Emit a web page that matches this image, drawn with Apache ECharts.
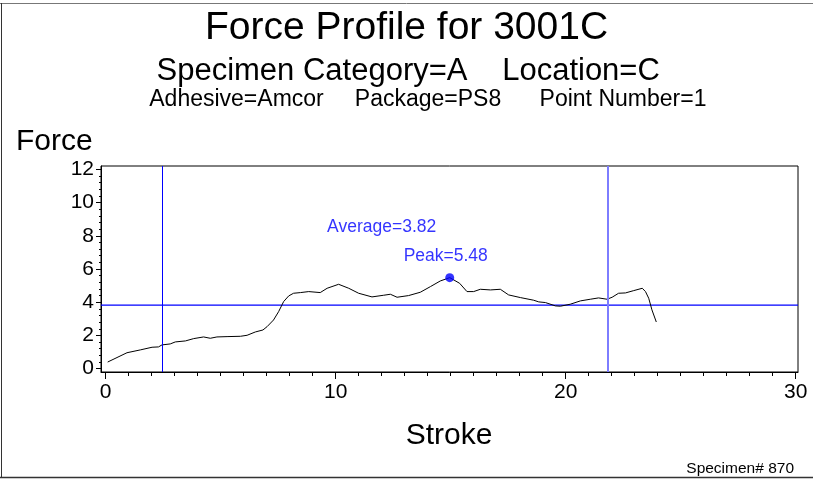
<!DOCTYPE html>
<html>
<head>
<meta charset="utf-8">
<title>Force Profile for 3001C</title>
<script src="https://cdn.jsdelivr.net/npm/echarts@6/dist/echarts.min.js"></script>
<style>
  html, body { margin: 0; padding: 0; background: #fff; }
  #main { width: 813px; height: 481px; }
</style>
</head>
<body>
<div id="main"></div>
<script>
// stroke / force
const stroke = [0.09, 0.93, 1.51, 2.02, 2.3, 2.45, 2.81, 3.03, 3.47, 3.83, 4.26, 4.55, 4.84, 5.28, 5.86,
  6.15, 6.51, 6.84, 7.02, 7.3, 7.52, 7.74, 7.96, 8.17, 8.47, 8.83, 9.33, 9.63, 10.13, 10.57,
  11.0, 11.58, 12.09, 12.38, 12.67, 13.17, 13.68, 14.12, 14.55, 14.96, 15.39, 15.71, 16.0, 16.29, 16.73,
  17.16, 17.52, 18.03, 18.61, 18.83, 19.12, 19.55, 19.77, 20.2, 20.64, 21.07, 21.43, 21.8, 22.02, 22.3,
  22.6, 22.96, 23.33, 23.47, 23.61, 23.75, 23.94]
const force = [0.40, 0.96, 1.13, 1.29, 1.31, 1.43, 1.49, 1.61, 1.67, 1.81, 1.91, 1.83, 1.91, 1.93, 1.95,
  2.01, 2.21, 2.33, 2.53, 2.93, 3.43, 4.04, 4.38, 4.54, 4.58, 4.64, 4.58, 4.84, 5.08, 4.84,
  4.54, 4.32, 4.42, 4.48, 4.30, 4.40, 4.60, 4.94, 5.28, 5.48, 5.14, 4.64, 4.64, 4.78, 4.74,
  4.78, 4.44, 4.28, 4.12, 4.02, 3.98, 3.78, 3.76, 3.88, 4.08, 4.18, 4.26, 4.18, 4.30, 4.54,
  4.56, 4.70, 4.84, 4.64, 4.24, 3.54, 2.81]

const average = 3.82
const peak = [14.96, 5.48]
const limits = [2.48, 21.81]   // vertical blue lines

const xTicks = [0, 10, 20, 30]
const yTicks = [0, 2, 4, 6, 8, 10, 12]

let xMinor = []
for (let i = 1; i < 30; i++) if (i % 10) xMinor.push(i)
let yMinor = []
for (let i = 0; i < 12; i += 2) for (let k = 1; k < 5; k++) yMinor.push(+(i + k * 0.4).toFixed(1))

const font = 'Liberation Sans, Arial, sans-serif'
const blue = '#0000ff'
const xRange = [-0.2, 30.1]
const yRange = [-0.2, 12.2]

let myChart = echarts.init(document.getElementById('main'))

function txt(text, x, y, size, align) {
    return {
        type: 'text', x: x, y: y,
        style: { text: text, font: size + 'px ' + font, fill: '#000', align: align || 'center', verticalAlign: 'middle' }
    }
}

let options = {
    animation: false,
    textStyle: { fontFamily: font },
    grid: { left: 101, right: 15, top: 166, bottom: 109, show: true, borderColor: '#000', borderWidth: 1 },
    graphic: [
        { type: 'line', shape: { x1: 0, y1: 3.5, x2: 813, y2: 3.5 }, style: { stroke: '#777', lineWidth: 1 } },
        { type: 'line', shape: { x1: 1.5, y1: 3, x2: 1.5, y2: 478 }, style: { stroke: '#333', lineWidth: 1 } },
        { type: 'line', shape: { x1: 0, y1: 477.5, x2: 813, y2: 477.5 }, style: { stroke: '#333', lineWidth: 1.5 } },
        txt('Force Profile for 3001C', 406.5, 28, 39),
        txt('Specimen Category=A', 312, 71, 31),
        txt('Location=C', 581, 71, 31),
        txt('Adhesive=Amcor', 236.5, 100, 23),
        txt('Package=PS8', 428, 100, 23),
        txt('Point Number=1', 623, 100, 23),
        txt('Force', 16, 142, 30, 'left'),
        txt('Stroke', 449, 436, 30),
        txt('Specimen# 870', 794, 469, 15.5, 'right')
    ],
    xAxis: [{
        type: 'value', min: xRange[0], max: xRange[1],
        splitLine: { show: false },
        axisLine: { show: true, onZero: false, lineStyle: { color: '#000' } },
        axisTick: { show: true, length: 7, customValues: xTicks, lineStyle: { color: '#000' } },
        axisLabel: { customValues: xTicks, fontSize: 21, color: '#000', margin: 10 }
    }, {
        type: 'value', min: xRange[0], max: xRange[1], position: 'bottom',
        splitLine: { show: false },
        axisLine: { show: false, onZero: false },
        axisTick: { show: true, length: 4, customValues: xMinor, lineStyle: { color: '#000' } },
        axisLabel: { show: false }
    }],
    yAxis: [{
        type: 'value', min: yRange[0], max: yRange[1],
        splitLine: { show: false },
        axisLine: { show: true, onZero: false, lineStyle: { color: '#000' } },
        axisTick: { show: true, length: 5, customValues: yTicks, lineStyle: { color: '#000' } },
        axisLabel: { customValues: yTicks, fontSize: 21, color: '#000', margin: 7 }
    }, {
        type: 'value', min: yRange[0], max: yRange[1], position: 'left',
        splitLine: { show: false },
        axisLine: { show: false, onZero: false },
        axisTick: { show: true, length: 2, customValues: yMinor, lineStyle: { color: '#000' } },
        axisLabel: { show: false }
    }],
    series: [{
        name: 'Force',
        type: 'line',
        data: stroke.map((s, i) => [s, force[i]]),
        showSymbol: false,
        z: 3,
        lineStyle: { color: '#000', width: 1 },
        markLine: {
            symbol: 'none', silent: true,
            label: { show: false },
            lineStyle: { color: blue, type: 'solid', width: 1 },
            data: [
                { xAxis: limits[0] },
                { xAxis: limits[1], lineStyle: { color: '#7d7dff', width: 2, type: 'solid' } }
            ]
        }
    }, {
        // average drawn as its own flat series across the frame
        name: 'Average line',
        type: 'line',
        data: [[xRange[0], average], [xRange[1], average]],
        showSymbol: false,
        silent: true,
        z: 2,
        lineStyle: { color: blue, width: 1.2 }
    }, {
        name: 'Peak',
        type: 'scatter',
        data: [peak],
        symbolSize: 9,
        z: 4,
        itemStyle: { color: blue },
        label: {
            show: true, position: 'top', distance: 8, offset: [-4, 0],
            formatter: 'Peak=' + peak[1].toFixed(2),
            color: blue, fontSize: 17.5
        }
    }, {
        name: 'Average',
        type: 'scatter',
        data: [[12, 8.5]],
        symbolSize: 0,
        label: {
            show: true, position: 'inside',
            formatter: 'Average=' + average.toFixed(2),
            color: blue, fontSize: 17.5
        }
    }]
}

myChart.setOption(options)
</script>
</body>
</html>
